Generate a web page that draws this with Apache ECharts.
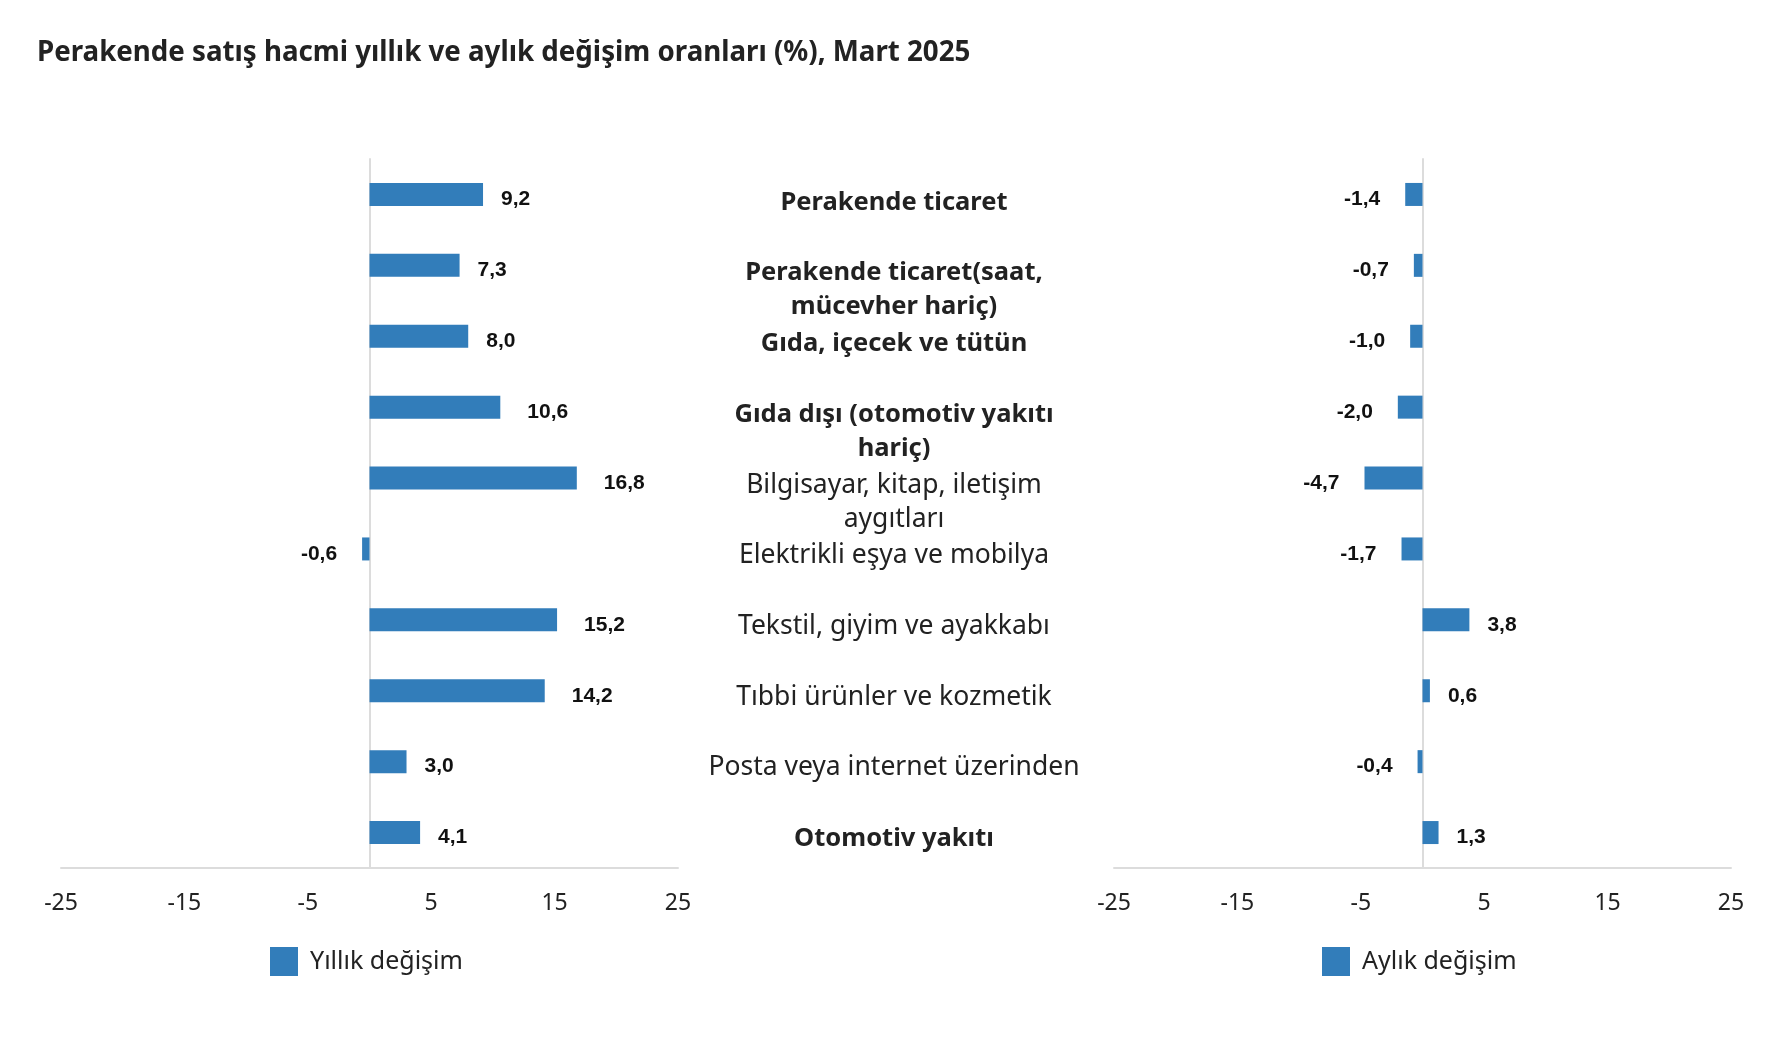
<!DOCTYPE html>
<html>
<head>
<meta charset="utf-8">
<script src="https://cdn.jsdelivr.net/npm/echarts@6/dist/echarts.min.js"></script>
<style>
  html, body { margin: 0; padding: 0; background: #ffffff; }
  #chart { width: 1792px; height: 1046px; }
</style>
</head>
<body>
<div id="chart"></div>
<script>
const titleText = 'Perakende satış hacmi yıllık ve aylık değişim oranları (%), Mart 2025';
const categories = [
  'Perakende ticaret',
  'Perakende ticaret(saat,\nmücevher hariç)',
  'Gıda, içecek ve tütün',
  'Gıda dışı (otomotiv yakıtı\nhariç)',
  'Bilgisayar, kitap, iletişim\naygıtları',
  'Elektrikli eşya ve mobilya',
  'Tekstil, giyim ve ayakkabı',
  'Tıbbi ürünler ve kozmetik',
  'Posta veya internet üzerinden',
  'Otomotiv yakıtı'
];
const boldCategories = [true, true, true, true, false, false, false, false, false, true];
const annualName = 'Yıllık değişim';
const monthlyName = 'Aylık değişim';
const annual = [9.2, 7.3, 8.0, 10.6, 16.8, -0.6, 15.2, 14.2, 3.0, 4.1];
const monthly = [-1.4, -0.7, -1.0, -2.0, -4.7, -1.7, 3.8, 0.6, -0.4, 1.3];
const xMin = -25, xMax = 25, xStep = 10;

const BAR_COLOR = '#327dba';
const TEXT = '#222222';
const SANS = '"Noto Sans", "Open Sans", sans-serif';

function fmt(v) { return v.toFixed(1).replace('.', ','); }
function barData(arr) {
  return arr.map(v => ({
    value: v,
    label: {
      position: v < 0 ? 'left' : 'right',
      distance: v < 0 ? 25 : (Math.abs(v) >= 10 ? 27 : 18)
    }
  }));
}
function valueAxis(gridIndex) {
  return {
    type: 'value', gridIndex, min: xMin, max: xMax, interval: xStep,
    axisLine: { show: true, lineStyle: { color: '#dcdcdc', width: 2 } },
    axisTick: { show: false },
    splitLine: { show: false },
    axisLabel: { color: '#222', fontFamily: SANS, fontSize: 23, margin: 24 }
  };
}
function catAxis(gridIndex) {
  return {
    type: 'category', gridIndex, data: categories, inverse: true,
    axisLine: { show: true, onZero: true, lineStyle: { color: '#dcdcdc', width: 2 } },
    axisTick: { show: false },
    axisLabel: { show: false }
  };
}
function barSeries(name, arr, idx) {
  return {
    name, type: 'bar', xAxisIndex: idx, yAxisIndex: idx,
    data: barData(arr), barWidth: 23,
    itemStyle: { color: BAR_COLOR },
    label: {
      show: true, formatter: p => fmt(p.value), offset: [0, 5],
      fontFamily: '"Liberation Sans", Arial, sans-serif', fontWeight: 'bold',
      fontSize: 21, color: '#111'
    }
  };
}

const chart = echarts.init(document.getElementById('chart'));
chart.setOption({
  animation: false,
  backgroundColor: '#ffffff',
  title: {
    text: titleText, left: 37, top: 39, padding: 0,
    textStyle: { fontFamily: SANS, fontWeight: 'bold', fontSize: 27.7, color: TEXT }
  },
  legend: [
    {
      data: [annualName], left: 270, top: 947, padding: 0,
      icon: 'rect', itemWidth: 28, itemHeight: 29,
      textStyle: { fontFamily: SANS, fontSize: 25, color: TEXT, padding: [0, 0, 0, 7] }
    },
    {
      data: [monthlyName], left: 1322, top: 947, padding: 0,
      icon: 'rect', itemWidth: 28, itemHeight: 29,
      textStyle: { fontFamily: SANS, fontSize: 25, color: TEXT, padding: [0, 0, 0, 7] }
    }
  ],
  grid: [
    { left: 61, width: 617, top: 159, height: 709 },
    { left: 1114, width: 617, top: 159, height: 709 },
    { left: 894, width: 10, top: 150, height: 707 }
  ],
  xAxis: [valueAxis(0), valueAxis(1), { type: 'value', gridIndex: 2, show: false }],
  yAxis: [
    catAxis(0), catAxis(1),
    {
      type: 'category', gridIndex: 2, data: categories, inverse: true, position: 'left',
      axisLine: { show: false }, axisTick: { show: false },
      axisLabel: {
        show: true, margin: 0, align: 'center', verticalAlign: 'top',
        formatter: (value, index) => value.split('\n')
          .map(l => '{' + (boldCategories[index] ? 'b' : 'n') + '|' + l + '}').join('\n'),
        rich: {
          b: { fontFamily: SANS, fontWeight: 'bold', fontSize: 25.5, lineHeight: 34, color: TEXT, align: 'center' },
          n: { fontFamily: SANS, fontWeight: 'normal', fontSize: 26.5, lineHeight: 34, color: TEXT, align: 'center' }
        }
      }
    }
  ],
  series: [barSeries(annualName, annual, 0), barSeries(monthlyName, monthly, 1)]
});
</script>
</body>
</html>
